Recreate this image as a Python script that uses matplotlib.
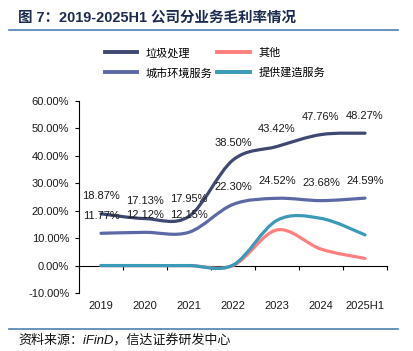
import matplotlib.pyplot as plt
import numpy as np
from matplotlib.path import Path
from matplotlib.patches import PathPatch
from matplotlib.lines import Line2D
from matplotlib.ticker import FuncFormatter
import matplotlib.transforms as mtransforms

plt.rcParams['font.family'] = ['Liberation Sans', 'Noto Sans CJK SC', 'DejaVu Sans']

years = ['2019', '2020', '2021', '2022', '2023', '2024', '2025H1']
waste = [18.87, 17.13, 17.95, 38.50, 43.42, 47.76, 48.27]      # 垃圾处理
city = [11.77, 12.12, 12.15, 22.30, 24.52, 23.68, 24.59]       # 城市环境服务
other = [0.0, 0.0, 0.0, 0.0, 13.0, 6.0, 2.6]                   # 其他 (估计)
build = [0.0, 0.0, 0.0, 0.2, 16.5, 17.2, 11.2]                 # 提供建造服务 (估计)

c_waste = '#3F4870'
c_city = '#5C69A6'
c_other = '#FF7F7F'
c_build = '#3A9AB8'


def smooth_path(xs, ys):
    # Excel 风格平滑线 (贝塞尔曲线)
    pts = np.column_stack([xs, ys]).astype(float)
    n = len(pts)
    verts = [pts[0]]
    codes = [Path.MOVETO]
    for i in range(n - 1):
        p0 = pts[max(i - 1, 0)]
        p1 = pts[i]
        p2 = pts[i + 1]
        p3 = pts[min(i + 2, n - 1)]
        c1 = p1 + (p2 - p0) / 6
        c2 = p2 - (p3 - p1) / 6
        verts += [c1, c2, p2]
        codes += [Path.CURVE4] * 3
    return Path(verts, codes)


fig = plt.figure(figsize=(4.14, 3.51), dpi=100)
ax = fig.add_axes([79 / 414, 1 - 293 / 351, 308 / 414, 192 / 351])

x = np.arange(len(years))
for vals, col in [(other, c_other), (build, c_build), (city, c_city), (waste, c_waste)]:
    ax.add_patch(PathPatch(smooth_path(x, vals), facecolor='none', edgecolor=col,
                           lw=2.3, capstyle='round', zorder=3))

for vals in [waste, city]:
    for xi, v in zip(x, vals):
        ax.annotate(f'{v:.2f}%', (xi, v), xytext=(0, 12.5), textcoords='offset points',
                    ha='center', va='center', fontsize=8, color='#1a1a1a', zorder=4)

ax.set_xlim(-0.5, len(years) - 0.5)
ax.set_ylim(-10, 60)
ax.set_yticks(np.arange(-10, 61, 10))
ax.yaxis.set_major_formatter(FuncFormatter(lambda v, p: f'{v:.2f}%'))
ax.set_xticks(np.arange(-0.5, len(years), 1))
ax.set_xticklabels([])
ax.tick_params(axis='x', direction='out', length=3, width=0.8)
ax.tick_params(axis='y', direction='out', length=3, width=0.8, labelsize=8, pad=4,
               labelcolor='#1a1a1a')

ax.spines['top'].set_visible(False)
ax.spines['right'].set_visible(False)
ax.spines['bottom'].set_position(('data', 0))
ax.spines['left'].set_linewidth(0.8)
ax.spines['bottom'].set_linewidth(0.8)

trans = mtransforms.blended_transform_factory(ax.transData, ax.transAxes)
for xi, lab in zip(x, years):
    ax.text(xi, -13 / 192, lab, transform=trans, ha='center', va='center', fontsize=8,
            color='#1a1a1a')

handles = [Line2D([], [], color=c_waste, lw=2.8),
           Line2D([], [], color=c_city, lw=2.8),
           Line2D([], [], color=c_other, lw=2.8),
           Line2D([], [], color=c_build, lw=2.8)]
labels = ['垃圾处理', '城市环境服务', '其他', '提供建造服务']
fig.legend(handles, labels, ncol=2, loc='center', bbox_to_anchor=(215 / 414, 1 - 63 / 351),
           frameon=False, fontsize=8, handlelength=2.9, handletextpad=0.8,
           columnspacing=0.45, labelspacing=0.85, borderpad=0)

fig.text(18 / 414, 1 - 18 / 351, '图 7：2019-2025H1 公司分业务毛利率情况', fontsize=10.45,
         fontweight='bold', color='#1C2B4F', ha='left', va='center')
fig.add_artist(Line2D([9 / 414, 398 / 414], [1 - 30 / 351, 1 - 30 / 351], color='#4F7FB5', lw=1.2))
fig.add_artist(Line2D([9 / 414, 398 / 414], [1 - 329 / 351, 1 - 329 / 351], color='#4F7FB5', lw=1.2))
fig.text(18 / 414, 1 - 340 / 351, '资料来源：iFinD，信达证券研发中心', fontsize=9.4,
         style='italic', color='#111111', ha='left', va='center')

fig.savefig('out.png', dpi=100)
